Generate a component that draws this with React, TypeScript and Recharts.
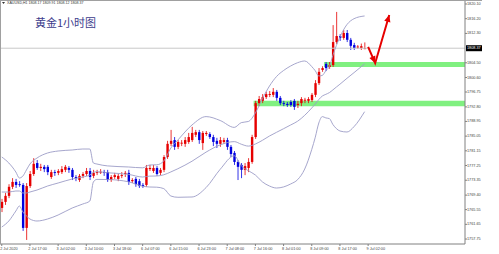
import { ComposedChart, Bar, Line, XAxis, YAxis, ReferenceArea, ReferenceLine } from 'recharts';

// XAUUSD H1 candles (price units)
const opens = [
  1766.0, 1767.6, 1769.2, 1771.6, 1772.9, 1772.3, 1772.1, 1760.7, 1771.8, 1775.0,
  1777.9, 1776.6, 1776.9, 1776.9, 1774.2, 1775.5, 1775.3, 1775.5, 1776.1, 1776.6,
  1776.1, 1774.2, 1773.4, 1774.5, 1775.0, 1775.8, 1774.5, 1775.3, 1775.5, 1775.5,
  1775.5, 1773.4, 1774.2, 1773.7, 1774.5, 1775.0, 1775.3, 1773.1, 1773.7, 1773.1,
  1772.1, 1772.1, 1776.3, 1775.8, 1776.6, 1775.3, 1776.1, 1779.5, 1783.0, 1784.0,
  1782.2, 1783.2, 1783.0, 1783.5, 1784.0, 1785.4, 1786.1, 1783.2, 1785.6, 1785.6,
  1784.8, 1783.8, 1783.0, 1783.5, 1784.0, 1782.2, 1780.6, 1778.2, 1777.4, 1776.1,
  1776.6, 1778.2, 1784.8, 1793.8, 1794.4, 1795.4, 1796.0, 1796.0, 1796.8, 1795.2,
  1793.8, 1793.6, 1794.1, 1794.4, 1793.3, 1793.8, 1794.6, 1794.4, 1794.6, 1796.0,
  1799.1, 1802.6, 1804.2, 1803.4, 1803.9, 1810.0, 1811.6, 1811.1, 1812.4, 1810.6,
  1809.2, 1808.7, 1808.4, 1808.17,
];
const highs = [
  1768.4, 1770.0, 1772.3, 1773.9, 1773.7, 1773.1, 1772.6, 1772.6, 1775.8, 1779.2,
  1778.7, 1777.7, 1777.4, 1777.4, 1776.1, 1776.1, 1776.3, 1777.1, 1777.4, 1777.1,
  1776.6, 1774.7, 1775.0, 1775.5, 1776.6, 1776.6, 1776.1, 1776.1, 1776.3, 1776.1,
  1776.1, 1774.7, 1775.3, 1775.0, 1775.5, 1775.8, 1776.1, 1773.9, 1774.2, 1773.7,
  1772.6, 1777.4, 1777.4, 1777.4, 1777.1, 1776.6, 1780.0, 1783.8, 1786.7, 1784.8,
  1784.0, 1784.0, 1784.8, 1785.9, 1787.5, 1786.7, 1786.7, 1786.4, 1786.4, 1786.1,
  1785.4, 1784.6, 1784.8, 1784.6, 1784.6, 1782.7, 1781.1, 1778.7, 1777.9, 1777.9,
  1779.2, 1785.4, 1794.4, 1795.7, 1796.2, 1796.8, 1797.0, 1797.8, 1797.3, 1795.7,
  1794.4, 1794.1, 1794.6, 1794.9, 1794.4, 1795.4, 1795.2, 1795.4, 1796.5, 1799.9,
  1803.1, 1803.6, 1804.7, 1804.7, 1814.5, 1818.0, 1812.1, 1813.2, 1813.2, 1811.1,
  1809.8, 1809.2, 1809.6, 1809.91,
];
const lows = [
  1764.9, 1766.8, 1768.6, 1771.0, 1771.3, 1771.6, 1759.9, 1757.5, 1771.3, 1774.5,
  1776.1, 1775.8, 1775.5, 1774.7, 1773.7, 1774.5, 1774.7, 1775.0, 1775.5, 1775.3,
  1773.4, 1773.1, 1772.9, 1773.9, 1774.5, 1773.4, 1773.9, 1774.7, 1775.0, 1774.5,
  1772.9, 1772.9, 1773.7, 1773.1, 1773.9, 1774.2, 1772.1, 1772.6, 1771.6, 1771.3,
  1771.3, 1771.6, 1775.8, 1775.3, 1774.5, 1774.7, 1775.5, 1779.0, 1782.4, 1781.4,
  1781.6, 1782.4, 1782.2, 1783.0, 1783.5, 1784.8, 1783.0, 1781.4, 1785.1, 1784.3,
  1782.4, 1781.9, 1782.2, 1783.0, 1781.4, 1779.5, 1777.4, 1773.4, 1773.9, 1774.7,
  1775.5, 1777.7, 1784.3, 1793.0, 1793.8, 1794.9, 1795.4, 1795.4, 1794.4, 1793.3,
  1793.0, 1792.8, 1792.8, 1792.0, 1792.5, 1793.0, 1793.8, 1793.8, 1794.1, 1795.4,
  1798.6, 1802.1, 1802.3, 1802.9, 1803.4, 1809.5, 1810.3, 1810.6, 1810.0, 1807.9,
  1807.9, 1808.2, 1807.9, 1808.12,
];
const closes = [
  1767.6, 1769.2, 1771.6, 1772.9, 1772.1, 1772.1, 1760.7, 1771.8, 1775.0, 1777.7,
  1776.6, 1776.9, 1776.3, 1775.5, 1775.5, 1775.3, 1775.8, 1776.3, 1776.9, 1776.1,
  1774.2, 1773.9, 1774.5, 1775.0, 1775.8, 1774.2, 1775.3, 1775.5, 1775.6, 1775.3,
  1773.4, 1774.2, 1774.7, 1774.5, 1774.7, 1775.3, 1772.9, 1773.4, 1772.3, 1771.8,
  1771.8, 1776.6, 1776.6, 1776.6, 1775.0, 1776.1, 1779.5, 1783.0, 1783.8, 1782.2,
  1783.5, 1783.3, 1784.0, 1784.8, 1785.9, 1786.1, 1784.0, 1785.9, 1785.9, 1784.8,
  1783.5, 1783.0, 1784.0, 1784.0, 1782.2, 1780.3, 1778.2, 1776.9, 1776.1, 1777.1,
  1778.2, 1784.8, 1793.8, 1794.9, 1795.4, 1796.2, 1796.2, 1796.8, 1795.2, 1793.8,
  1793.6, 1793.3, 1793.3, 1792.8, 1793.6, 1794.9, 1794.7, 1794.9, 1796.0, 1799.1,
  1802.1, 1803.1, 1803.1, 1803.9, 1810.0, 1811.6, 1811.1, 1812.4, 1810.6, 1809.0,
  1808.4, 1808.8, 1808.9, 1808.37,
];

// Bollinger band knots (candle index -> value)
const bandIdx = [
  0, 2, 4, 5, 6, 7, 8, 10, 13, 16, 20, 23, 25, 26, 27, 30, 36, 40, 42, 44,
  46, 48, 50, 54, 58, 62, 66, 68, 70, 72, 74, 76, 78, 80, 82, 84, 86, 88, 89, 90,
  91, 92, 93, 94, 95, 96, 98, 100, 103,
];
const bbUpper = [
  1779.51, 1777.92, 1775.53, 1773.94, 1774.47, 1776.06, 1777.65, 1779.24, 1780.57, 1781.10,
  1781.37, 1781.63, 1781.63, 1777.92, 1777.65, 1777.15, 1776.86, 1776.64, 1777.39, 1777.44,
  1778.45, 1781.90, 1784.02, 1788.00, 1790.23, 1789.19, 1787.36, 1788.63, 1788.93, 1791.21,
  1794.98, 1798.34, 1800.86, 1802.46, 1803.65, 1804.53, 1804.98, 1803.49, 1802.38, 1801.00,
  1801.16, 1802.40, 1803.49, 1806.49, 1809.12, 1811.34, 1814.66, 1816.20, 1816.92,
];
const bbMiddle = [
  1770.22, 1770.22, 1770.49, 1770.49, 1769.96, 1769.96, 1770.22, 1770.75, 1771.81, 1772.61,
  1773.67, 1774.20, 1774.73, 1775.42, 1775.61, 1775.34, 1774.89, 1774.20, 1774.44, 1774.47,
  1774.79, 1775.55, 1776.40, 1778.39, 1780.81, 1782.72, 1783.59, 1782.90, 1782.40, 1782.96,
  1783.94, 1785.08, 1786.06, 1787.02, 1788.00, 1789.01, 1790.57, 1792.51, 1793.57, 1794.76,
  1795.69, 1796.14, 1796.59, 1797.31, 1798.08, 1798.82, 1800.39, 1801.89, 1804.21,
];
const bbLower = [
  1760.94, 1762.53, 1765.18, 1766.51, 1764.92, 1763.86, 1763.06, 1762.53, 1763.06, 1764.12,
  1765.98, 1767.04, 1767.83, 1772.88, 1773.57, 1773.54, 1772.93, 1771.76, 1771.55, 1771.50,
  1771.12, 1769.16, 1768.82, 1768.90, 1771.39, 1776.24, 1779.83, 1777.17, 1775.87, 1774.73,
  1772.90, 1771.81, 1771.28, 1771.57, 1772.35, 1773.51, 1776.32, 1781.52, 1784.76, 1788.53,
  1790.23, 1789.88, 1789.70, 1788.13, 1787.04, 1786.41, 1786.14, 1787.57, 1791.53,
];

// hand-drawn forecast arrow
const arrowIdx = [104, 106, 110];
const arrowVals = [1808.7, 1804.4, 1817.2];

// support zones [start index, bottom, top]
const zoneLower = [72, 1793.0, 1794.4];
const zoneUpper = [92, 1803.4, 1804.7];

const yTicks = [
  1820.10, 1816.20, 1812.30, 1804.50, 1800.60, 1796.75, 1792.80, 1788.95,
  1785.05, 1781.15, 1777.25, 1773.35, 1769.40, 1765.55, 1761.65, 1757.75,
];
const xTickIdx = [0, 8, 16, 24, 32, 40, 48, 56, 64, 72, 80, 88, 96, 104];
const xLabels = [
  '2 Jul 2020', '2 Jul 17:00', '3 Jul 02:00', '3 Jul 10:00', '3 Jul 18:00', '6 Jul 07:00', '6 Jul 15:00',
  '6 Jul 23:00', '7 Jul 08:00', '7 Jul 16:00', '8 Jul 01:00', '8 Jul 09:00', '8 Jul 17:00', '9 Jul 02:00',
];

const SLOTS = 132;
const RED = '#e60000';
const BLUE = '#0000e0';
const BAND = '#9c9cc6';
const last = opens.length - 1;

const rows: any[] = Array.from({ length: SLOTS }, (_, i) => {
  const r: any = { i };
  if (i < opens.length) {
    r.o = opens[i];
    r.h = highs[i];
    r.l = lows[i];
    r.c = closes[i];
    r.range = [lows[i], highs[i]];
  }
  return r;
});
bandIdx.forEach((k, j) => {
  rows[k].bbU = bbUpper[j];
  rows[k].bbM = bbMiddle[j];
  rows[k].bbL = bbLower[j];
});
arrowIdx.forEach((k, j) => {
  rows[k].arrow = arrowVals[j];
});

const Candle = (props: any) => {
  const { x, y, width, height, payload } = props;
  if (!payload || payload.o == null || height == null) return <g />;
  const { o, h, l, c } = payload;
  const color = c >= o ? RED : BLUE;
  const k = height / (h - l || 1);
  const cx = x + width / 2;
  const top = y + (h - Math.max(o, c)) * k;
  const bot = y + (h - Math.min(o, c)) * k;
  const bw = 2.4;
  return (
    <g>
      <line x1={cx} x2={cx} y1={y} y2={y + height} stroke={color} strokeWidth={0.8} />
      <rect x={cx - bw / 2} y={top} width={bw} height={Math.max(bot - top, 0.9)} fill={color} />
    </g>
  );
};

// band lines get no markers at all
const NoDot = (props: any) => <g key={`nd-${props.index}`} />;

// arrowhead on every arrow point that has a previous point
const ArrowHead = (props: any) => {
  const { cx, cy, index, points } = props;
  if (cx == null || cy == null || !points) return <g key={`ah-${index}`} />;
  let prev: any = null;
  for (let k = index - 1; k >= 0; k--) {
    const p = points[k];
    if (p && p.y != null && p.value != null) { prev = p; break; }
  }
  if (!prev) return <g key={`ah-${index}`} />;
  const a = Math.atan2(cy - prev.y, cx - prev.x);
  const len = 7, half = 3.2;
  const bx = cx - len * Math.cos(a), by = cy - len * Math.sin(a);
  const pts = `${cx},${cy} ${bx + half * Math.sin(a)},${by - half * Math.cos(a)} ${bx - half * Math.sin(a)},${by + half * Math.cos(a)}`;
  return <polygon key={`ah-${index}`} points={pts} fill={RED} />;
};

const XTick = (props: any) => {
  const { x, y, payload } = props;
  const n = xTickIdx.indexOf(payload.value);
  return (
    <text x={x - 1.6} y={y + 4} fontSize={3.8} fill="#444" textAnchor="start" fontFamily="Liberation Sans">
      {n >= 0 ? xLabels[n] : ''}
    </text>
  );
};

const YTick = (props: any) => {
  const { x, y, payload } = props;
  return (
    <text x={x} y={y} fontSize={3.8} fill="#444" dominantBaseline="central" fontFamily="Liberation Sans">
      {Number(payload.value).toFixed(2)}
    </text>
  );
};

const PriceBox = (props: any) => {
  const vb = props.viewBox || {};
  const x = (vb.x ?? 0) + (vb.width ?? 0);
  return (
    <g>
      <rect x={x + 1} y={vb.y - 3} width={16} height={6} fill="#000" />
      <text x={x + 2} y={vb.y} fontSize={3.8} fill="#fff" dominantBaseline="central" fontFamily="Liberation Sans">
        {closes[last].toFixed(2)}
      </text>
    </g>
  );
};

export default function App() {
  return (
    <div style={{ position: 'relative', width: 499, height: 254, background: '#fff', overflow: 'hidden' }}>
      <style>{'body{margin:0}'}</style>
      <ComposedChart width={499} height={254} data={rows} margin={{ top: 0, right: 17, left: 0, bottom: 0 }} barCategoryGap={0}>
        <XAxis
          dataKey="i"
          type="category"
          ticks={xTickIdx}
          interval={0}
          height={10}
          tick={<XTick />}
          tickSize={2}
          tickMargin={0}
          axisLine={{ stroke: '#808080' }}
          tickLine={{ stroke: '#808080' }}
        />
        <YAxis
          orientation="right"
          width={17}
          domain={[1756.43, 1821.16]}
          allowDataOverflow
          ticks={yTicks}
          interval={0}
          tick={<YTick />}
          tickSize={2}
          tickMargin={0}
          axisLine={{ stroke: '#808080' }}
          tickLine={{ stroke: '#808080' }}
        />
        <ReferenceArea x1={zoneLower[0]} y1={zoneLower[1]} y2={zoneLower[2]} fill="#80f080" fillOpacity={1} stroke="none" />
        <ReferenceArea x1={zoneUpper[0]} y1={zoneUpper[1]} y2={zoneUpper[2]} fill="#80f080" fillOpacity={1} stroke="none" />
        <ReferenceLine y={closes[last]} stroke="#c8c8c8" strokeWidth={1} label={<PriceBox />} />
        <Line dataKey="bbU" type="monotone" stroke={BAND} strokeWidth={0.9} dot={NoDot} activeDot={false} connectNulls isAnimationActive={false} />
        <Line dataKey="bbM" type="monotone" stroke={BAND} strokeWidth={0.9} dot={NoDot} activeDot={false} connectNulls isAnimationActive={false} />
        <Line dataKey="bbL" type="monotone" stroke={BAND} strokeWidth={0.9} dot={NoDot} activeDot={false} connectNulls isAnimationActive={false} />
        <Bar dataKey="range" shape={<Candle />} isAnimationActive={false} />
        <Line dataKey="arrow" type="linear" stroke={RED} strokeWidth={2} dot={ArrowHead} activeDot={false} connectNulls isAnimationActive={false} />
      </ComposedChart>
      <svg width={499} height={254} style={{ position: 'absolute', left: 0, top: 0, pointerEvents: 'none' }}>
        <line x1={0} x2={482} y1={0.5} y2={0.5} stroke="#a0a0a0" />
        <line x1={0.5} x2={0.5} y1={0} y2={244} stroke="#a0a0a0" />
        <polygon points="2,2 5,2 3.5,4" fill="#333" />
        <text x={7} y={4.2} fontSize={3.6} fill="#333" fontFamily="Liberation Sans">
          {`XAUUSD,H1  ${opens[last].toFixed(2)} ${highs[last].toFixed(2)} ${lows[last].toFixed(2)} ${closes[last].toFixed(2)}`}
        </text>
      </svg>
      <div
        style={{
          position: 'absolute',
          left: 35,
          top: 16,
          fontFamily: '"Noto Sans CJK SC", sans-serif',
          fontSize: 11,
          lineHeight: '12px',
          color: '#3c3c8c',
          whiteSpace: 'nowrap',
        }}
      >
        黄金1小时图
      </div>
    </div>
  );
}
